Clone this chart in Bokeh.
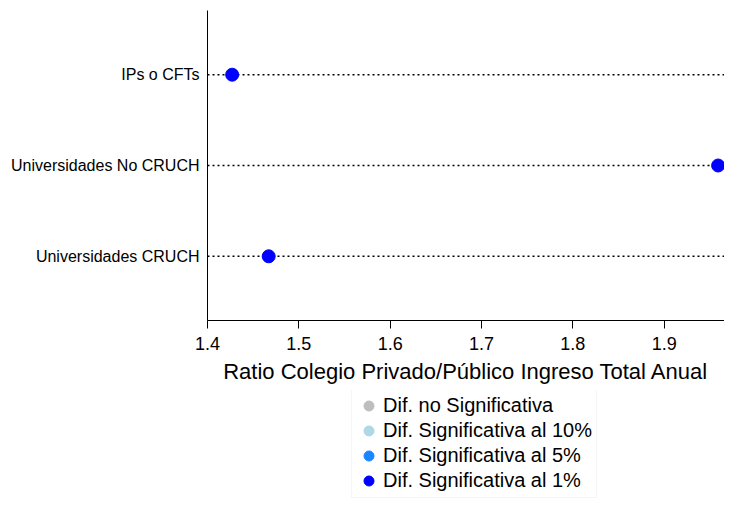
from bokeh.plotting import figure
from bokeh.layouts import column
from bokeh.models import Legend, LegendItem, ColumnDataSource, FixedTicker, Range1d
from bokeh.embed import file_html
from bokeh.resources import INLINE

# ---- data ----
categories = ["Universidades CRUCH", "Universidades No CRUCH", "IPs o CFTs"]
ratios = [1.467, 1.959, 1.427]
significance = ["1%", "1%", "1%"]
x_ticks = [1.4, 1.5, 1.6, 1.7, 1.8, 1.9]
legend_keys = ["ns", "10%", "5%", "1%"]
legend_labels = ["Dif. no Significativa", "Dif. Significativa al 10%",
                 "Dif. Significativa al 5%", "Dif. Significativa al 1%"]
legend_colors = ["#bebebe", "#add8e6", "#1a85ff", "#0000ff"]
x_title = "Ratio Colegio Privado/Público Ingreso Total Anual"

FONT = "Liberation Sans"
x_start, x_end = 1.4, 1.966
y_pos = list(range(len(categories)))
color_map = dict(zip(legend_keys, legend_colors))

p = figure(width=724, height=390, output_backend="svg", toolbar_location=None,
           x_range=Range1d(x_start, x_end), y_range=Range1d(-0.707, len(categories) - 1 + 0.707),
           min_border_left=207, min_border_right=0, min_border_top=10, min_border_bottom=70)
p.outline_line_color = None
p.xgrid.visible = False
p.ygrid.visible = False

# dotted guide lines
seg = ColumnDataSource(dict(y=y_pos, x0=[x_start] * len(y_pos), x1=[x_end] * len(y_pos)))
p.segment(x0="x0", x1="x1", y0="y", y1="y", source=seg, line_color="black",
          line_dash="2 3", line_width=1.5)

src = ColumnDataSource(dict(x=ratios, y=y_pos, color=[color_map[s] for s in significance]))
p.scatter(x="x", y="y", source=src, size=13, fill_color="color", line_color="color")

# axes
p.xaxis.ticker = FixedTicker(ticks=x_ticks)
p.xaxis.axis_label = x_title
p.xaxis.axis_label_text_font = FONT
p.xaxis.axis_label_text_font_size = "22px"
p.xaxis.axis_label_text_font_style = "normal"
p.xaxis.axis_label_text_color = "black"
p.xaxis.axis_label_standoff = 6
p.xaxis.major_label_text_font = FONT
p.xaxis.major_label_text_font_size = "18px"
p.xaxis.major_label_text_color = "black"
p.xaxis.axis_line_color = "black"
p.xaxis.major_tick_line_color = "black"
p.xaxis.major_tick_out = 8
p.xaxis.major_tick_in = 0
p.xaxis.minor_tick_line_color = None
p.xaxis.major_label_standoff = 8

p.yaxis.ticker = FixedTicker(ticks=y_pos)
p.yaxis.major_label_overrides = {i: c for i, c in zip(y_pos, categories)}
p.yaxis.major_label_text_font = FONT
p.yaxis.major_label_text_font_size = "16px"
p.yaxis.major_label_text_color = "black"
p.yaxis.axis_line_color = "black"
p.yaxis.major_tick_line_color = None
p.yaxis.major_tick_out = 0
p.yaxis.major_tick_in = 0
p.yaxis.minor_tick_line_color = None
p.yaxis.major_label_standoff = 8

# legend panel (separate figure below the chart; its frame aligns with the chart's)
lf = figure(width=724, height=108, output_backend="svg", toolbar_location=None,
            x_range=Range1d(10, 11), y_range=Range1d(10, 11), x_axis_location=None,
            y_axis_location=None, min_border=0)
lf.outline_line_color = None
lf.xgrid.visible = False
lf.ygrid.visible = False
# key markers kept outside the visible range; only their legend swatches show
key_src = ColumnDataSource(dict(x=list(range(len(legend_keys))), y=list(range(len(legend_keys))),
                                color=legend_colors))
kr = lf.scatter(x="x", y="y", source=key_src, size=10, fill_color="color", line_color="color")
items = [LegendItem(label=lab, renderers=[kr], index=i) for i, lab in enumerate(legend_labels)]
legend = Legend(items=items, location=(144, 0), label_text_font=FONT,
                label_text_font_size="20px", label_text_color="black",
                label_height=21, glyph_height=25, glyph_width=25,
                spacing=0, padding=4, label_standoff=2, border_line_color="#e6eeee",
                background_fill_alpha=1, margin=0)
lf.add_layout(legend, "center")

open("out.html", "w").write(file_html(column(p, lf), INLINE))
